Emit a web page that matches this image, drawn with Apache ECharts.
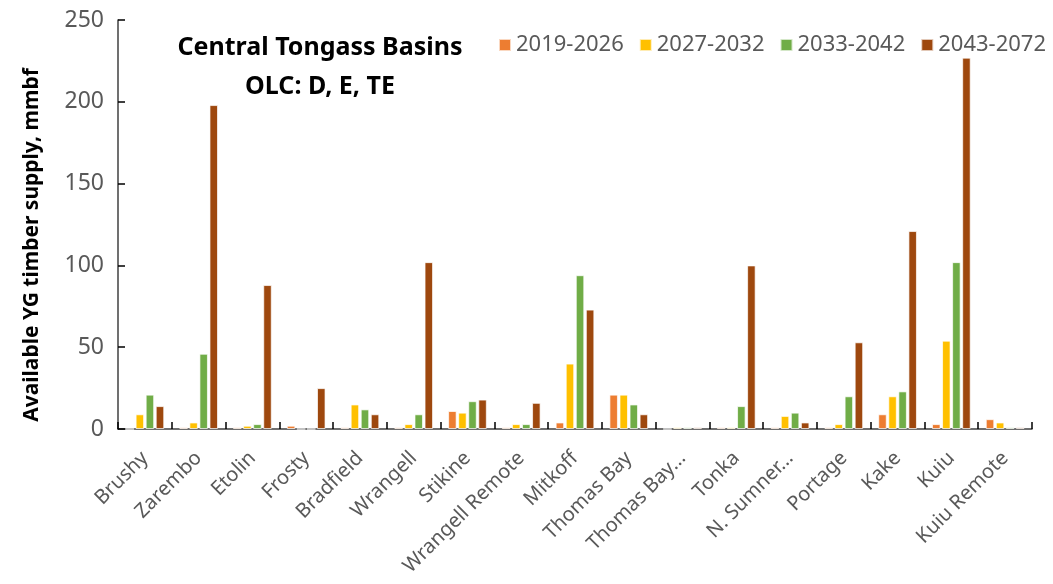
<!DOCTYPE html>
<html>
<head>
<meta charset="utf-8">
<script src="https://cdn.jsdelivr.net/npm/echarts@6/dist/echarts.min.js"></script>
<style>
  html, body { margin: 0; padding: 0; background: #fff; }
  #chart { width: 1053px; height: 584px; }
</style>
</head>
<body>
<div id="chart"></div>
<script>
const basins = ['Brushy', 'Zarembo', 'Etolin', 'Frosty', 'Bradfield', 'Wrangell', 'Stikine',
  'Wrangell Remote', 'Mitkoff', 'Thomas Bay', 'Thomas Bay...', 'Tonka', 'N. Sumner...',
  'Portage', 'Kake', 'Kuiu', 'Kuiu Remote']
const p2019 = [0, 1, 1, 2, 1, 1, 11, 1, 4, 21, 0, 1, 1, 1, 9, 3, 6]
const p2027 = [9, 4, 2, 0, 15, 3, 10, 3, 40, 21, 1, 1, 8, 3, 20, 54, 4]
const p2033 = [21, 46, 3, 0, 12, 9, 17, 3, 94, 15, 1, 14, 10, 20, 23, 102, 1]
const p2043 = [14, 198, 88, 25, 9, 102, 18, 16, 73, 9, 1, 100, 4, 53, 121, 227, 1]
const yTicks = [0, 50, 100, 150, 200, 250]

const chart = echarts.init(document.getElementById('chart'))

const grey = '#595959'
const font = 'Noto Sans'
const barStyle = (c) => ({ color: c, borderColor: 'rgba(255,255,255,0.7)', borderWidth: 1 })

const option = {
  animation: false,
  textStyle: { fontFamily: font },
  grid: { left: 118, right: 21, top: 20, bottom: 155 },
  title: [
    {
      text: 'Central Tongass Basins',
      left: 315, top: 30, textAlign: 'center',
      textStyle: { fontSize: 25, fontWeight: 'bold', color: '#000', fontFamily: font }
    },
    {
      text: 'OLC: D, E, TE',
      left: 315, top: 69, textAlign: 'center',
      textStyle: { fontSize: 25, fontWeight: 'bold', color: '#000', fontFamily: font }
    }
  ],
  legend: {
    top: 29, left: 493, width: 600,
    itemWidth: 12, itemHeight: 12, itemGap: 15,
    icon: 'rect',
    textStyle: { fontSize: 22, color: grey },
    data: ['2019-2026', '2027-2032', '2033-2042', '2043-2072']
  },
  graphic: [
    {
      type: 'text',
      x: 32, y: 245,
      rotation: Math.PI / 2,
      style: {
        text: 'Available YG timber supply, mmbf',
        align: 'center', verticalAlign: 'middle',
        font: 'bold 21px "Noto Sans"', fill: '#000'
      }
    }
  ],
  xAxis: {
    type: 'category',
    data: basins,
    axisLine: { lineStyle: { color: '#404040', width: 1.5 } },
    axisTick: { show: true, length: -7, lineStyle: { color: '#000', width: 1.5 } },
    axisLabel: { rotate: 45, fontSize: 20, color: grey, interval: 0, margin: 26 }
  },
  yAxis: {
    type: 'value',
    min: 0, max: yTicks[yTicks.length - 1], interval: 50,
    splitLine: { show: false },
    axisLine: { show: true, lineStyle: { color: '#404040', width: 1.5 } },
    axisTick: { show: true, length: -7, lineStyle: { color: '#000', width: 1.5 } },
    axisLabel: { fontSize: 23, color: grey, margin: 14 }
  },
  series: [
    { name: '2019-2026', type: 'bar', data: p2019, itemStyle: barStyle('#ED7D31') },
    { name: '2027-2032', type: 'bar', data: p2027, itemStyle: barStyle('#FFC000') },
    { name: '2033-2042', type: 'bar', data: p2033, itemStyle: barStyle('#70AD47') },
    { name: '2043-2072', type: 'bar', data: p2043, itemStyle: barStyle('#9E480E') }
  ].map(s => Object.assign(s, { barGap: '18%', barCategoryGap: '28%' }))
}

chart.setOption(option)
</script>
</body>
</html>
